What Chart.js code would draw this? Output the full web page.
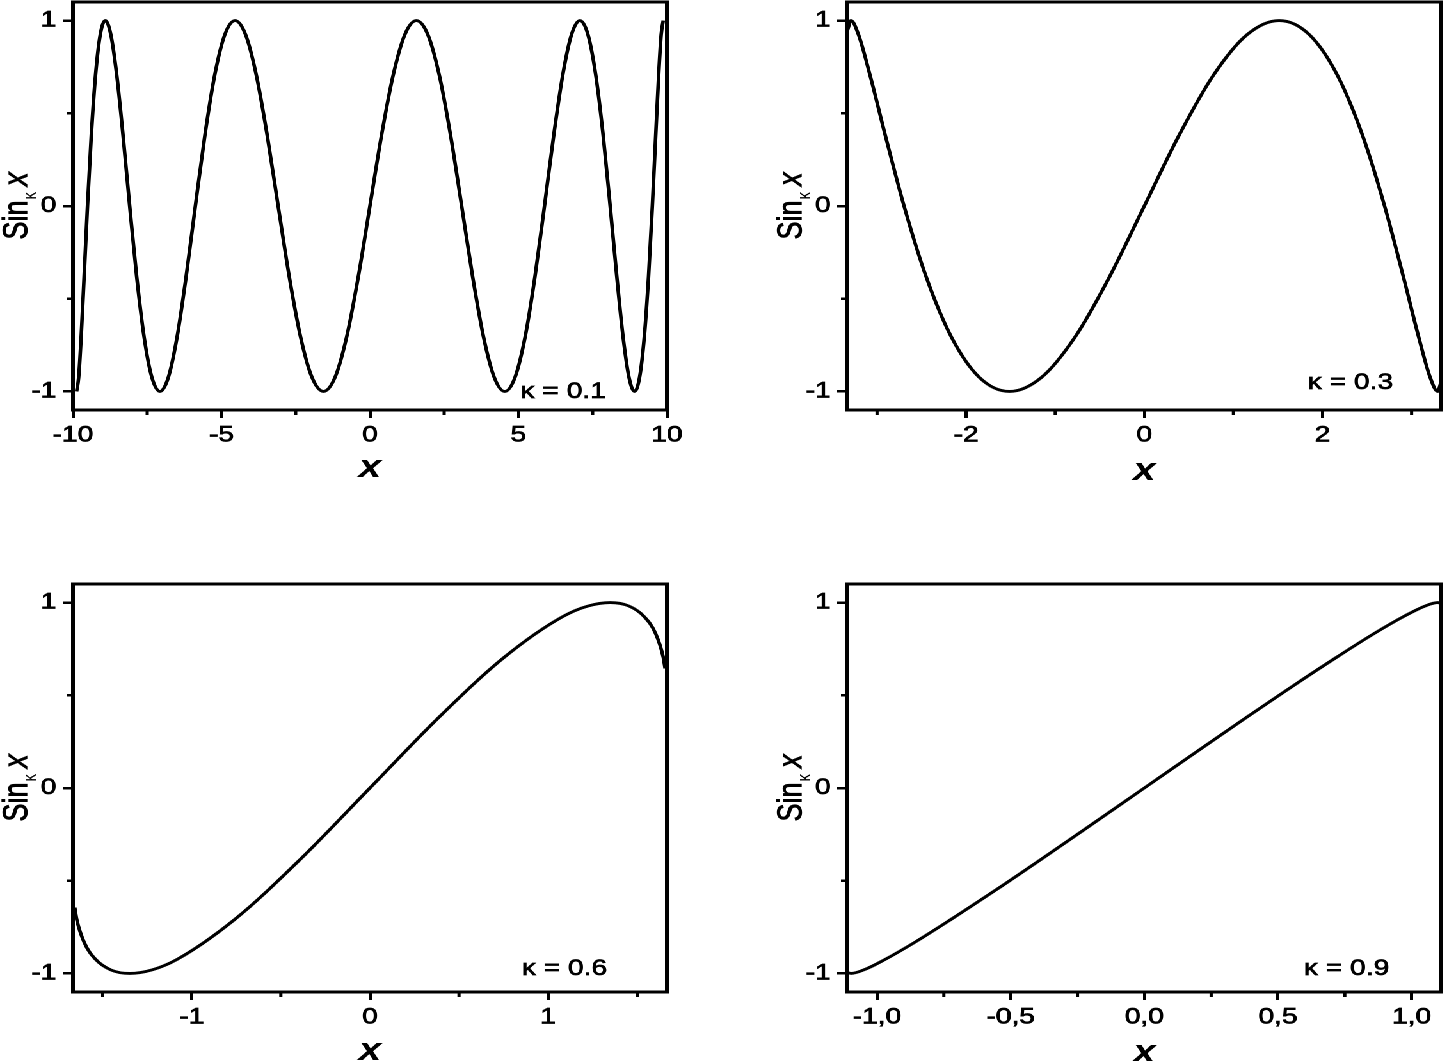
<!DOCTYPE html>
<html><head><meta charset="utf-8">
<script src="https://cdn.jsdelivr.net/npm/chart.js@4/dist/chart.umd.min.js"></script>
<style>
html,body{margin:0;padding:0;background:#fff;overflow:hidden;width:1445px;height:1061px;}
#stage{position:absolute;left:0;top:0;width:1129px;height:1061px;transform:scaleX(1.28);transform-origin:0 0;}
canvas{position:absolute;}
</style></head><body>
<div id="stage">
<canvas id="c1" width="565" height="500" style="left:0px;top:0px"></canvas>
<canvas id="c2" width="565" height="500" style="left:605px;top:0px"></canvas>
<canvas id="c3" width="565" height="480" style="left:0px;top:582px"></canvas>
<canvas id="c4" width="565" height="480" style="left:605px;top:582px"></canvas>
</div>
<script>
// ---- data ----
const kappaLabels = ['κ = 0.1','κ = 0.3','κ = 0.6','κ = 0.9'];

const x1 = [-9.877,-9.808,-9.724,-9.625,-9.511,-9.382,-9.239,-9.081,-8.910,-8.725,-8.526,-8.315,-8.090,-7.853,-7.604,-7.343,-7.071,-6.788,-6.494,-6.191,-5.878,-5.556,-5.225,-4.886,-4.540,-4.187,-3.827,-3.461,-3.090,-2.714,-2.334,-1.951,-1.564,-1.175,-0.785,-0.393,0,0.393,0.785,1.175,1.564,1.951,2.334,2.714,3.090,3.461,3.827,4.187,4.540,4.886,5.225,5.556,5.878,6.191,6.494,6.788,7.071,7.343,7.604,7.853,8.090,8.315,8.526,8.725,8.910,9.081,9.239,9.382,9.511,9.625,9.724,9.808,9.877];
const y1 = [-1,-0.924,-0.707,-0.383,0,0.383,0.707,0.924,1,0.924,0.707,0.383,0,-0.383,-0.707,-0.924,-1,-0.924,-0.707,-0.383,0,0.383,0.707,0.924,1,0.924,0.707,0.383,0,-0.383,-0.707,-0.924,-1,-0.924,-0.707,-0.383,0,0.383,0.707,0.924,1,0.924,0.707,0.383,0,-0.383,-0.707,-0.924,-1,-0.924,-0.707,-0.383,0,0.383,0.707,0.924,1,0.924,0.707,0.383,0,-0.383,-0.707,-0.924,-1,-0.924,-0.707,-0.383,0,0.383,0.707,0.924,1];

const x2 = [-3.33,-3.2923,-3.2082,-3.0796,-2.9083,-2.6967,-2.4477,-2.1648,-1.8519,-1.5133,-1.1537,-0.7782,-0.3918,0,0.3918,0.7782,1.1537,1.5133,1.8519,2.1648,2.4477,2.6967,2.9083,3.0796,3.2082,3.2923,3.33];
const y2 = [0.95,1,0.924,0.707,0.383,0,-0.383,-0.707,-0.924,-1,-0.924,-0.707,-0.383,0,0.383,0.707,0.924,1,0.924,0.707,0.383,0,-0.383,-0.707,-0.924,-1,-0.95];

const x3 = [-1.657,-1.6462,-1.6041,-1.5398,-1.4542,-1.3484,-1.2239,-1.0824,-0.7567,-0.3891,0,0.3891,0.7567,1.0824,1.2239,1.3484,1.4542,1.5398,1.6041,1.6462,1.657];
const y3 = [-0.645,-0.707,-0.832,-0.924,-0.981,-1,-0.981,-0.924,-0.707,-0.383,0,0.383,0.707,0.924,0.981,1,0.981,0.924,0.832,0.707,0.645];

const x4 = [-1.108,-1.0974,-1.0498,-0.9694,-0.8588,-0.7216,-0.5619,-0.3846,-0.1953,0,0.1953,0.3846,0.5619,0.7216,0.8588,0.9694,1.0498,1.0974,1.108];
const y4 = [-0.996,-1,-0.981,-0.924,-0.832,-0.707,-0.556,-0.383,-0.195,0,0.195,0.383,0.556,0.707,0.832,0.924,0.981,1,0.996];

const xRange1 = [-10,10], xRange2 = [-3.333,3.333], xRange3 = [-1.667,1.667], xRange4 = [-1.111,1.111];
const yRange = [-1.1,1.1];

const xTicks1 = [-10,-5,0,5,10],  xTickLabels1 = ['-10','-5','0','5','10'], xMinor1 = [-7.5,-2.5,2.5,7.5];
const xTicks2 = [-2,0,2],         xTickLabels2 = ['-2','0','2'],            xMinor2 = [-3,-1,1,3];
const xTicks3 = [-1,0,1],         xTickLabels3 = ['-1','0','1'],            xMinor3 = [-1.5,-0.5,0.5,1.5];
const xTicks4 = [-1,-0.5,0,0.5,1],xTickLabels4 = ['-1,0','-0,5','0,0','0,5','1,0'], xMinor4 = [-0.75,-0.25,0.25,0.75];
const yTicks = [-1,0,1], yTickLabels = ['-1','0','1'], yMinor = [-0.5,0.5];

// ---- layout/style ----
const FONT = '"Liberation Sans", Arial, sans-serif';
const panels = [
  {id:'c1', xs:x1, ys:y1, xr:xRange1, xt:xTicks1, xl:xTickLabels1, xm:xMinor1, k:kappaLabels[0], kdx:-81, kdy:-18, tdy:67},
  {id:'c2', xs:x2, ys:y2, xr:xRange2, xt:xTicks2, xl:xTickLabels2, xm:xMinor2, k:kappaLabels[1], kdx:-71, kdy:-27, tdy:70},
  {id:'c3', xs:x3, ys:y3, xr:xRange3, xt:xTicks3, xl:xTickLabels3, xm:xMinor3, k:kappaLabels[2], kdx:-80, kdy:-23, tdy:68},
  {id:'c4', xs:x4, ys:y4, xr:xRange4, xt:xTicks4, xl:xTickLabels4, xm:xMinor4, k:kappaLabels[3], kdx:-74, kdy:-23, tdy:70}
];

function makeDecor(p){
  return {
    id:'decor_'+p.id,
    afterDraw(chart){
      const ctx = chart.ctx, a = chart.chartArea, xs = chart.scales.x, ys = chart.scales.y;
      ctx.save();
      ctx.strokeStyle = '#000';
      ctx.lineWidth = 3;
      ctx.strokeRect(a.left, a.top, a.right - a.left, a.bottom - a.top);
      ctx.lineWidth = 2.5;
      ctx.beginPath();
      p.xm.forEach(v => { const px = xs.getPixelForValue(v); ctx.moveTo(px, a.bottom); ctx.lineTo(px, a.bottom + 5); });
      yMinor.forEach(v => { const py = ys.getPixelForValue(v); ctx.moveTo(a.left, py); ctx.lineTo(a.left - 5, py); });
      ctx.stroke();
      ctx.fillStyle = '#000';
      // x title
      ctx.font = 'italic bold 32px ' + FONT;
      ctx.textAlign = 'center';
      ctx.textBaseline = 'alphabetic';
      ctx.fillText('x', (a.left + a.right) / 2, a.bottom + p.tdy);
      // kappa label
      ctx.font = '22px ' + FONT;
      ctx.textBaseline = 'middle';
      ctx.lineWidth = 0.7;
      ctx.fillText(p.k, a.right + p.kdx, a.bottom + p.kdy);
      ctx.strokeText(p.k, a.right + p.kdx, a.bottom + p.kdy);
      // y title (rotated)
      ctx.save();
      ctx.translate(21, (a.top + a.bottom) / 2);
      ctx.rotate(-Math.PI / 2);
      ctx.textAlign = 'left';
      ctx.textBaseline = 'alphabetic';
      ctx.lineWidth = 0.7;
      const f1 = '27px ' + FONT, f2 = '15px ' + FONT, f3 = 'italic 27px ' + FONT;
      ctx.font = f1; const w1 = ctx.measureText('Sin').width;
      ctx.font = f2; const w2 = ctx.measureText('κ').width;
      ctx.font = f3; const w3 = ctx.measureText('x').width;
      const gap = 6;
      let x0 = -(w1 + 1 + w2 + gap + w3) / 2;
      ctx.font = f1; ctx.fillText('Sin', x0, 0); ctx.strokeText('Sin', x0, 0); x0 += w1 + 1;
      ctx.font = f2; ctx.fillText('κ', x0, 7); x0 += w2 + gap;
      ctx.font = f3; ctx.fillText('x', x0, 0); ctx.strokeText('x', x0, 0);
      ctx.restore();
      ctx.restore();
    }
  };
}

panels.forEach(p => {
  const canvas = document.getElementById(p.id);
  const H = canvas.height;
  const pts = p.xs.map((x, i) => ({x: x, y: p.ys[i]}));
  new Chart(canvas, {
    type: 'line',
    data: { datasets: [{ data: pts, borderColor: '#000', borderWidth: 2.8, pointRadius: 0, fill: false, cubicInterpolationMode: 'monotone' }] },
    options: {
      responsive: false,
      devicePixelRatio: 2,
      animation: false,
      layout: { padding: { top: 2, right: 44, left: 0, bottom: 0 } },
      plugins: { legend: { display: false }, tooltip: { enabled: false } },
      scales: {
        x: {
          type: 'linear', min: p.xr[0], max: p.xr[1],
          afterBuildTicks: s => { s.ticks = p.xt.map(v => ({value: v})); },
          afterFit: s => { s.height = H - 410; s.paddingLeft = 0; s.paddingRight = 0; },
          ticks: { autoSkip: false, maxRotation: 0, color: '#000', padding: 4, font: { family: FONT, size: 22 },
                   textStrokeColor: '#000', textStrokeWidth: 0.7,
                   callback: (v, i) => p.xl[i] },
          grid: { drawOnChartArea: false, drawTicks: true, tickLength: 8, color: '#000', lineWidth: 2.5 },
          border: { display: true, color: '#000', width: 3 }
        },
        y: {
          type: 'linear', min: yRange[0], max: yRange[1],
          afterBuildTicks: s => { s.ticks = yTicks.map(v => ({value: v})); },
          afterFit: s => { s.width = 57; s.paddingTop = 0; s.paddingBottom = 0; },
          ticks: { autoSkip: false, color: '#000', padding: 5, font: { family: FONT, size: 22 },
                   textStrokeColor: '#000', textStrokeWidth: 0.7,
                   callback: (v, i) => yTickLabels[i] },
          grid: { drawOnChartArea: false, drawTicks: true, tickLength: 8, color: '#000', lineWidth: 2.5 },
          border: { display: true, color: '#000', width: 3 }
        }
      }
    },
    plugins: [makeDecor(p)]
  });
});
</script>
</body></html>
